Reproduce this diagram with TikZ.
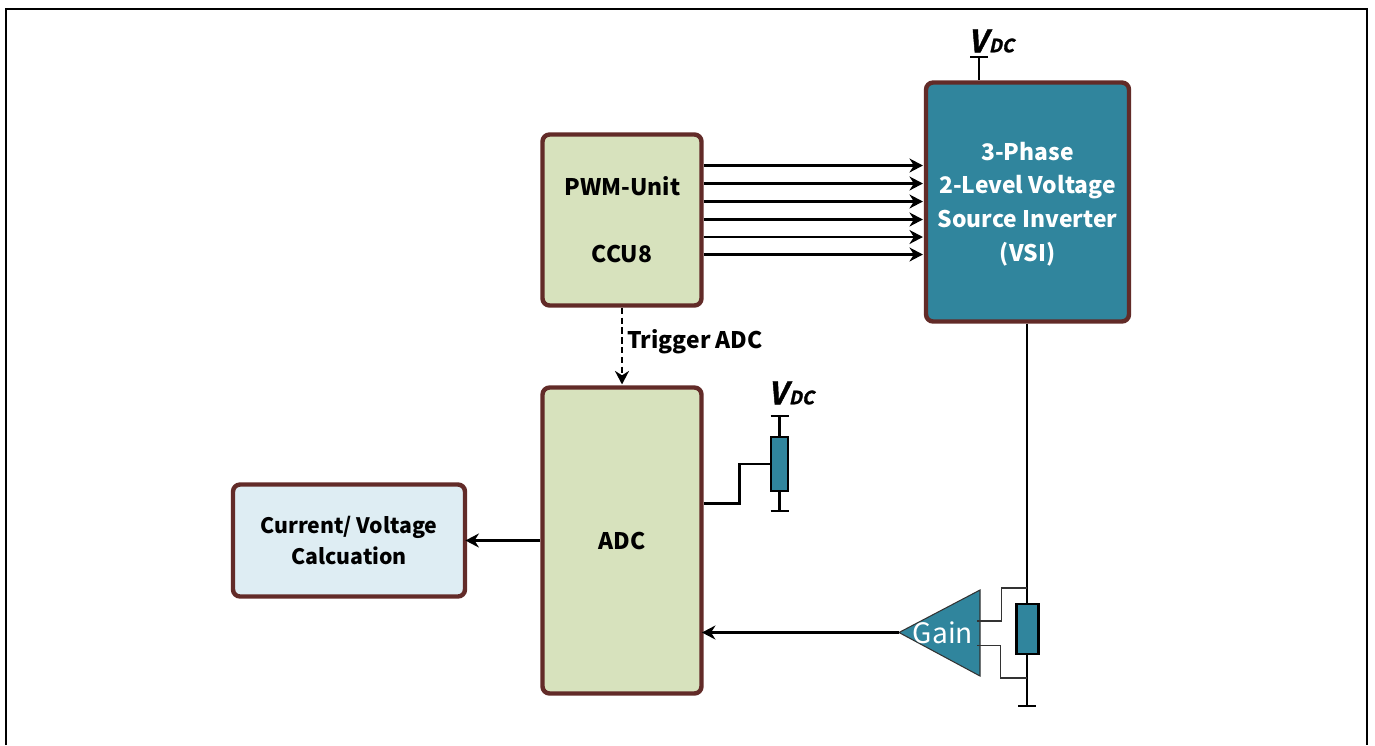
\documentclass[tikz,border=0pt]{standalone}
\usepackage{fontspec}
\setmainfont{Noto Sans CJK SC}
\newfontfamily\supplyfont[FakeSlant=0.22,FakeBold=1.5]{Noto Sans CJK SC Bold}
\usepackage{xcolor}
\usetikzlibrary{positioning,arrows.meta,shapes.geometric,calc}
\definecolor{boxline}{HTML}{622B28}
\definecolor{greenfill}{HTML}{D7E2BD}
\definecolor{tealfill}{HTML}{30859D}
\definecolor{bluefill}{HTML}{DEEDF3}
\tikzset{
  every node/.style={font=\fontsize{13}{19.2}\selectfont\bfseries},
  block/.style={
    rectangle, rounded corners=4pt,
    draw=boxline, line width=2.5pt, fill=greenfill,
    align=center, inner sep=0pt, outer sep=1.25pt
  },
  arrow/.style={
    -{Stealth[length=2.7mm,width=2.8mm]},
    line width=1.3pt, draw=black, shorten >=0.5pt
  },
  intoblock/.style={arrow, shorten >=-1pt},
  wire/.style={line width=1.35pt, draw=black},
  thinwire/.style={line width=0.8pt, draw=black!80},
  resistor/.style={
    rectangle, draw=black, line width=1.3pt, fill=tealfill,
    inner sep=0pt, outer sep=0pt
  },
  supply/.style={font=\fontsize{17.5}{20}\supplyfont, inner sep=0pt},
}
\newcommand{\vdclabel}{V\kern1pt{\fontsize{10.4}{14}\selectfont DC}}
\begin{document}
\begin{tikzpicture}[x=0.02cm,y=-0.02cm]
  \useasboundingbox (0,0) rectangle (1375,745);
  % outer frame, open at the bottom
  \coordinate (fa) at (6,745);
  \coordinate (fb) at (6,9);
  \coordinate (fc) at (1367,9);
  \coordinate (fd) at (1367,745);
  \draw[line width=1.2pt] (fa) -- (fb) -- (fc) -- (fd);

  % blocks
  \node[block, minimum width=3.18cm, minimum height=3.42cm] (pwm) at (622,220) {};
  \node (pwmtxt) at (622.5,186.5) {PWM-Unit};
  \node (ccutxt) at (622,254) {CCU8};
  \node[block, minimum width=3.18cm, minimum height=6.12cm] (adc) at (622,540.5) {ADC};
  \node[block, fill=tealfill, minimum width=4.06cm, minimum height=4.78cm] (vsi) at (1027.5,202) {};
  \node[text=white, align=center] (vsitxt) at (1027.5,204) {3-Phase\\2-Level Voltage\\Source Inverter\\(VSI)};
  \node[block, fill=bluefill, minimum width=4.64cm, minimum height=2.24cm, font=\fontsize{12.1}{17.4}\selectfont\bfseries] (calc) at (349,540.5) {Current/ Voltage\\Calcuation};

  % PWM channels
  \foreach \i/\y in {1/165.5,2/183.5,3/201.5,4/219.5,5/237,6/254.5} {
    \coordinate (ch\i) at (0,\y);
    \draw[arrow] (pwm.east |- ch\i) -- (vsi.west |- ch\i);
  }

  % trigger
  \draw[arrow, dash pattern=on 3.6pt off 2pt] (pwm.south) -- (adc.north);
  \node[anchor=west, inner sep=0pt] (trig) at (627,342) {Trigger ADC};
  \draw[intoblock] (adc.west) -- (calc.east |- adc.west);

  % supply of the inverter
  \node[supply] (vdca) at (991,41) {\vdclabel};
  \coordinate (vtopa) at (979,57);
  \draw[wire] ($(vtopa)+(-9,0)$) -- ($(vtopa)+(9,0)$);
  \draw[wire] (vtopa) -- (vtopa |- vsi.north);

  % voltage divider
  \node[supply] (vdcb) at (791,393) {\vdclabel};
  \node[resistor, minimum width=0.34cm, minimum height=1.08cm] (rdiv) at (779.5,464) {};
  \coordinate (divtop) at (779.5,416);
  \coordinate (divbot) at (779.5,511);
  \coordinate (divout) at (739.5,503.5);
  \draw[wire] ($(divtop)+(-9,0)$) -- ($(divtop)+(9,0)$);
  \draw[wire] ($(divbot)+(-9,0)$) -- ($(divbot)+(9,0)$);
  \draw[wire] (divtop) -- (rdiv.north);
  \draw[wire] (rdiv.south) -- (divbot);
  \draw[wire] (adc.east |- divout) -- (divout) |- (rdiv.west);

  % shunt and gain
  \node[resistor, minimum width=0.44cm, minimum height=1.0cm] (rsh) at (1027.5,629) {};
  \coordinate (shbot) at (1027,706);
  \coordinate (shtapa) at (1027,588);
  \coordinate (shtapb) at (1027,678);
  \draw[wire] (vsi.south -| shbot) -- (shbot |- rsh.north);
  \draw[wire] (shbot |- rsh.south) -- (shbot);
  \draw[wire] ($(shbot)+(-9,0)$) -- ($(shbot)+(9,0)$);
  \coordinate (gaintip) at (899,632.5);
  \coordinate (gainup) at (980,590);
  \coordinate (gaindn) at (980,676);
  \path[fill=tealfill, draw=black!80, line width=0.6pt] (gaintip) -- (gainup) -- (gaindn) -- cycle;
  \node[text=white, font=\fontsize{16}{18}\selectfont\mdseries] (gain) at (943,633) {Gain};
  \draw[thinwire] (977,621) -- (1001.5,621) -- (1001.5,588) -- (shtapa);
  \draw[thinwire] (977,645.5) -- (1000.5,645.5) -- (1000.5,678) -- (shtapb);
  \draw[intoblock] (gaintip) -- (adc.east |- gaintip);
\end{tikzpicture}
\end{document}
